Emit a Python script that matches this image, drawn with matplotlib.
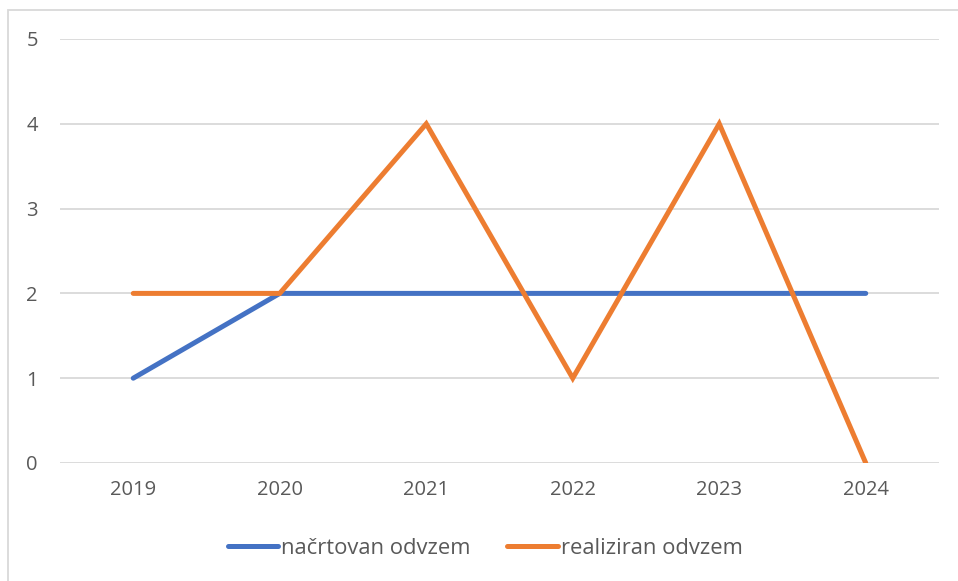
import matplotlib.pyplot as plt
from matplotlib.patches import Rectangle

years = ["2019", "2020", "2021", "2022", "2023", "2024"]
planned = [1, 2, 2, 2, 2, 2]
realized = [2, 2, 4, 1, 4, 0]

plt.rcParams['font.family'] = ['Open Sans', 'DejaVu Sans']

fig = plt.figure(figsize=(9.58, 5.81), dpi=100)
ax = fig.add_axes([60 / 958, 1 - 463 / 581, (939 - 60) / 958, (463 - 39) / 581])

x = range(len(years))
ax.plot(x, planned, color="#4472C4", lw=3.6, solid_capstyle="round",
        solid_joinstyle="miter", label="načrtovan odvzem")
ax.plot(x, realized, color="#ED7D31", lw=3.6, solid_capstyle="round",
        solid_joinstyle="miter", label="realiziran odvzem")

ax.set_xlim(-0.5, len(years) - 0.5)
ax.set_ylim(0, 5)
ax.set_xticks(list(x))
ax.set_xticklabels(years)
ax.set_yticks(range(6))
ax.grid(axis="y", color="#D9D9D9", lw=1.3)
ax.set_axisbelow(True)
for s in ax.spines.values():
    s.set_visible(False)
ax.tick_params(length=0, colors="#595959", labelsize=14.5)
ax.tick_params(axis="y", pad=16)
ax.tick_params(axis="x", pad=12)
for lbl in ax.get_yticklabels():
    lbl.set_horizontalalignment("right")

fig.legend(loc="center", bbox_to_anchor=(0.5 + 6 / 958, 1 - 548 / 581), ncol=2,
           frameon=False, fontsize=15.8, labelcolor="#595959",
           handlelength=2.3, handletextpad=0.12, columnspacing=1.7)

fig.patches.append(Rectangle((8 / 958, -0.1), 1.2, 1 - 10 / 581 + 0.1,
                             transform=fig.transFigure, fill=False,
                             edgecolor="#D9D9D9", lw=1.3))

fig.savefig("out.png", dpi=100)
